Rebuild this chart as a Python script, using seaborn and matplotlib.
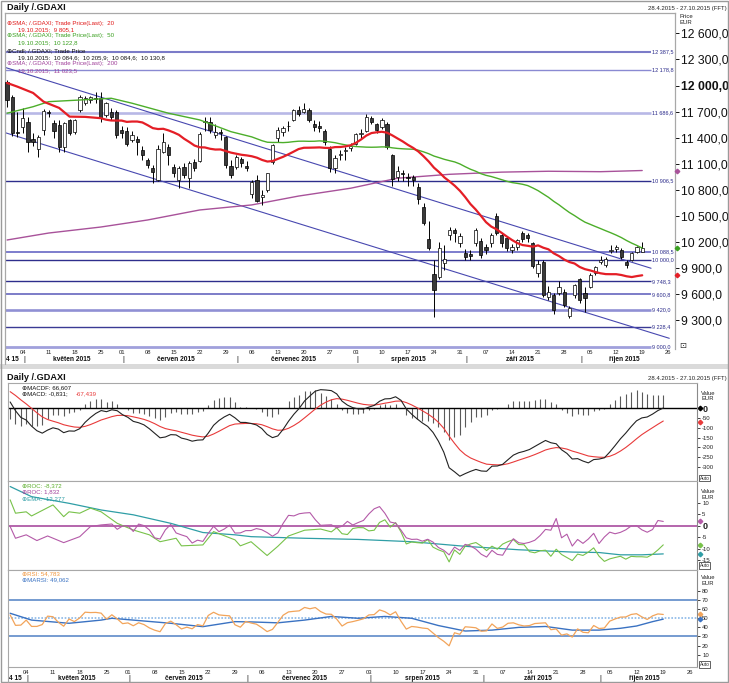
import numpy as np
import pandas as pd
import matplotlib
matplotlib.use("Agg")
import matplotlib.pyplot as plt
from matplotlib.patches import Rectangle
from matplotlib.lines import Line2D
from matplotlib.transforms import blended_transform_factory
import seaborn as sns

sns.set_theme(style="white")
plt.rcParams['font.family'] = ['Liberation Sans', 'DejaVu Sans']
plt.rcParams['axes.unicode_minus'] = False

W, H = 729, 683

# ---------------- data ----------------
holidays = ["2015-05-01", "2015-05-25"]
trade_days = [d for d in pd.bdate_range("2015-04-28", "2015-10-19")
              if d.strftime("%Y-%m-%d") not in holidays]

opens = [12045, 11872, 11470, 11528, 11585, 11383, 11268, 11490, 11700, 11570,
         11547, 11298, 11605, 11470, 11720, 11800, 11834, 11860, 11854, 11662,
         11700, 11700, 11490, 11482, 11375, 11383, 11260, 11145, 11053, 10915,
         11240, 11298, 11068, 10915, 11068, 10935, 11125, 11130, 11580, 11585,
         11432, 11460, 11413, 11075, 11068, 11160, 11080, 10750, 10920, 10720,
         10800, 11120, 11400, 11470, 11530, 11600, 11720, 11700, 11720, 11560,
         11540, 11480, 11270, 11050, 11200, 11250, 11280, 11330, 11440, 11480,
         11630, 11560, 11520, 11560, 11200, 10950, 11000, 10950, 10950, 10838,
         10608, 10233, 9830, 9803, 9957, 10282, 10340, 10194, 10080, 10063,
         10187, 10218, 10145, 10194, 10501, 10283, 10245, 10110, 10145, 10300,
         10283, 10187, 9840, 9976, 9573, 9593, 9612, 9631, 9350, 9593,
         9774, 9612, 9689, 9843, 9970, 9938, 10100, 10118, 10110, 9976,
         9996, 10091, 10084.6]
highs = [12064, 11890, 11700, 11740, 11640, 11450, 11430, 11725, 11720, 11600,
         11605, 11580, 11620, 11620, 11892, 11880, 11880, 11930, 11930, 11810,
         11740, 11720, 11530, 11520, 11480, 11420, 11300, 11170, 11090, 11317,
         11452, 11330, 11100, 11080, 11110, 11130, 11160, 11470, 11640, 11640,
         11560, 11500, 11420, 11140, 11200, 11180, 11130, 10920, 10970, 10800,
         11000, 11330, 11520, 11540, 11590, 11730, 11760, 11802, 11740, 11600,
         11590, 11500, 11300, 11200, 11260, 11290, 11340, 11460, 11500, 11670,
         11650, 11570, 11630, 11580, 11210, 11080, 11030, 11000, 10970, 10880,
         10650, 10447, 9990, 10206, 10168, 10378, 10360, 10300, 10120, 10110,
         10360, 10250, 10180, 10300, 10533, 10310, 10270, 10180, 10240, 10330,
         10300, 10200, 9990, 10000, 9700, 9620, 9750, 9660, 9470, 9720,
         9790, 9680, 9840, 9930, 10040, 10030, 10170, 10170, 10130, 10000,
         10090, 10160, 10205.9]
lows = [11757, 11420, 11410, 11460, 11240, 11300, 11180, 11432, 11640, 11400,
        11240, 11240, 11430, 11440, 11700, 11780, 11800, 11800, 11580, 11640,
        11600, 11400, 11400, 11300, 11350, 11202, 11150, 11050, 10877, 10900,
        11220, 11087, 10950, 10820, 10940, 10820, 11020, 11120, 11480, 11460,
        11400, 11380, 11050, 10940, 11040, 11060, 11020, 10710, 10660, 10630,
        10780, 11100, 11350, 11420, 11480, 11590, 11650, 11690, 11580, 11480,
        11470, 11320, 11010, 11000, 11150, 11150, 11250, 11320, 11400, 11470,
        11560, 11460, 11500, 11270, 10850, 10900, 10900, 10850, 10850, 10640,
        10400, 10110, 9340, 9780, 9880, 10225, 10200, 10150, 9990, 9990,
        10160, 10020, 10060, 10150, 10280, 10150, 10100, 10080, 10110, 10200,
        10200, 9900, 9800, 9570, 9540, 9380, 9590, 9460, 9325, 9560,
        9500, 9400, 9670, 9820, 9950, 9920, 10080, 10090, 10010, 9900,
        9980, 10070, 10084.6]
closes = [11834, 11452, 11460, 11624, 11355, 11355, 11413, 11712, 11690, 11478,
          11298, 11570, 11455, 11605, 11872, 11857, 11865, 11840, 11624, 11800,
          11643, 11432, 11459, 11329, 11432, 11355, 11202, 11088, 11010, 11268,
          11355, 11202, 10992, 11050, 10972, 11107, 11050, 11440, 11590, 11490,
          11470, 11455, 11087, 10970, 11183, 11110, 11058, 10890, 10676, 10747,
          10996, 11315, 11484, 11516, 11539, 11717, 11673, 11734, 11604, 11520,
          11512, 11347, 11056, 11173, 11211, 11257, 11308, 11443, 11456, 11636,
          11585, 11490, 11604, 11293, 10925, 11015, 10985, 10940, 10915, 10693,
          10417, 10130, 9650, 10130, 10003, 10340, 10310, 10271, 10030, 10045,
          10340, 10053, 10110, 10283, 10302, 10194, 10130, 10145, 10220, 10233,
          10245, 9927, 9950, 9593, 9631, 9421, 9689, 9478, 9445, 9708,
          9536, 9555, 9823, 9919, 10000, 10007, 10112, 10145, 10033, 9938,
          10072, 10148, 10130.8]

# moving averages: values read for the first days, then from the closes
sma20_head_days = [0, 2, 5, 7, 10, 12, 15, 18]
sma20_head_vals = [12030, 11987, 11915, 11815, 11743, 11643, 11640, 11625]
sma50_head_days = [0, 5, 8, 14, 20, 24, 31, 37, 43, 47]
sma50_head_vals = [11682, 11757, 11815, 11834, 11854, 11797, 11682, 11605, 11470, 11410]
sma200_days = [0, 8, 18, 27, 37, 47, 56, 66, 75, 85, 95, 104, 114, 122]
sma200_vals = [10225, 10305, 10374, 10455, 10570, 10628, 10730, 10820, 10935,
               10980, 11005, 11015, 11010, 11023.5]

levels = [12387.5, 12178.8, 11686.6, 10906.5, 10088.5, 10000.0, 9748.3,
          9600.8, 9420.0, 9228.4, 9000.0]
level_colors = ['#7b7bc8', '#8a8ad2', '#b8b8e6', '#2e2e8c', '#5a5ac0', '#2e2e8c',
                '#2e2e8c', '#7272c4', '#9090d4', '#3a3a94', '#a0a0dc']
level_widths = [1.5, 1.0, 1.9, 1.0, 1.1, 1.0, 1.0, 1.3, 1.9, 1.0, 2.0]
channel_upper_days, channel_upper_vals = [-0.4, 123.7], [12209, 9900]
channel_lower_days, channel_lower_vals = [-0.4, 127.2], [11459, 9095]

# MACD seeds (state before the first day)
macd_seed_ema12, macd_seed_ema26, macd_seed_signal = 12010, 11960, 98

roc20_head_days = [0, 1, 3, 5, 7, 10, 13, 15, 17, 19]
roc20_head_vals = [-0.4, -5.5, -4, -6.5, -4.5, -7.4, -4.8, -0.4, 0.3, 0.7]
roc60_head_days = [0, 1, 3, 4, 8, 10, 11, 13, 15, 17, 20, 23, 26, 28, 31, 32, 36,
                   38, 42, 43, 45, 48, 50, 52, 55, 58]
roc60_head_vals = [11.2, 5.4, 6, 4.2, 9, 3.9, 6, 5.4, 7.6, 6, 1, -1.9, -4, -7, -5.5,
                   -8.8, -8.4, -2.6, -6.2, -8.8, -7, -13, -9, -4.5, -2, -1.5]
ema_days = [0, 4, 11, 17, 23, 30, 36, 42, 45, 55, 65, 75, 85, 95, 105, 110, 114, 118, 122]
ema_vals = [17, 12.6, 9.7, 6.8, 4.7, 1, -3, -4, -4.8, -5.5, -6, -7, -9, -10.5,
            -11.5, -11.7, -12.7, -12.7, -12.3]

rsi_seed_gain, rsi_seed_loss = 58.0, 50.0
marsi_days = [0, 4, 11, 17, 19, 23, 30, 36, 42, 45, 50, 55, 60, 65, 70, 75, 80,
              85, 90, 95, 100, 105, 110, 114, 117, 120, 122]
marsi_vals = [55.5, 48, 44.5, 48, 50, 48, 44.5, 40.8, 46.3, 46, 45, 48, 52, 50, 52,
              50, 42, 36, 37, 40, 41, 37, 37, 39, 41.5, 46.3, 49.06]

month_names = ["květen 2015", "červen 2015", "červenec 2015", "srpen 2015",
               "září 2015", "říjen 2015"]
month_starts = ["2015-05-01", "2015-06-01", "2015-07-01", "2015-08-01",
                "2015-09-01", "2015-10-01"]
axis_end = "2015-10-27"
main_yticks = [9300, 9600, 9900, 10200, 10500, 10800, 11100, 11400, 11700,
               12000, 12300, 12600]
macd_yticks = [0, -50, -100, -150, -200, -250, -300]
roc_yticks = [10, 5, 0, -5, -10, -15]
rsi_yticks = [80, 70, 60, 50, 40, 30, 20, 10]

# ---------------- helpers ----------------
def fmt(v, nd=1):
    return f"{v:,.{nd}f}".replace(",", " ").replace(".", ",")

n = len(closes)
idx = np.arange(n)
o, hh, ll, c = map(np.array, (opens, highs, lows, closes))
td = pd.DatetimeIndex(trade_days)


def day_pos(d):
    d = pd.Timestamp(d)
    i = td.searchsorted(d)
    if i < len(td):
        return int(i)
    return len(td) - 1 + len(pd.bdate_range(td[-1], d)) - 1


XL = (-0.4, 128.3)

fig = plt.figure(figsize=(W / 100, H / 100), dpi=100)
fig.patch.set_facecolor('white')


def rect(x0, y0, x1, y1):
    return [x0 / W, 1 - y1 / H, (x1 - x0) / W, (y1 - y0) / H]


def ftext(x, y, s, **kw):
    kw.setdefault('va', 'center')
    kw.setdefault('ha', 'left')
    fig.text(x / W, 1 - y / H, s, **kw)


def fline(x0, y0, x1, y1, **kw):
    fig.lines.append(Line2D([x0 / W, x1 / W], [1 - y0 / H, 1 - y1 / H],
                            transform=fig.transFigure, **kw))


ax = fig.add_axes(rect(5, 13, 675, 349))
axm = fig.add_axes(rect(8, 383, 697, 481))
axr = fig.add_axes(rect(8, 481, 697, 570))
axs = fig.add_axes(rect(8, 570, 697, 667))

# separator band, frame lines
fig.patches.append(Rectangle((0, 1 - 369 / H), 1, 5 / H, transform=fig.transFigure,
                             facecolor='#dadada', edgecolor='none'))
fig.patches.append(Rectangle((0.001, 0.001), 0.998, 0.998, transform=fig.transFigure,
                             facecolor='none', edgecolor='#9a9a9a', lw=1.0))
fline(5, 349, 5, 364, color='#a8a8a8', lw=0.9)
fline(8, 667, 8, 682, color='#a8a8a8', lw=0.8)

# ---------------- main price panel ----------------
ax.set_xlim(*XL)
ax.set_ylim(8972, 12834)
for lv, col, lw in zip(levels, level_colors, level_widths):
    ax.plot([XL[0], 123.6], [lv, lv], color=col, lw=lw, zorder=1, solid_capstyle='butt')
    ax.text(123.8, lv, fmt(lv), fontsize=4.0, color='#2a2a8a', va='center', ha='left',
            zorder=6, clip_on=False)
ax.plot(channel_upper_days, channel_upper_vals, color='#4848b0', lw=0.8, zorder=1.5)
ax.plot(channel_lower_days, channel_lower_vals, color='#4848b0', lw=0.8, zorder=1.5)

sns.lineplot(x=sma200_days, y=sma200_vals, ax=ax, color='#a8529a', lw=1.0,
             sort=False, estimator=None, legend=False, zorder=2)

# candles
up = c >= o
body_lo = np.minimum(o, c)
body_h = np.maximum(np.abs(c - o), 8)
ax.vlines(idx, ll, hh, color='black', lw=0.7, zorder=3)
ax.bar(idx, body_h, bottom=body_lo, width=0.62,
       color=np.where(up, 'white', '#3a3a3a'), edgecolor='black', linewidth=0.5,
       zorder=3.5)

cs = pd.Series(closes)
sma20_calc = cs.rolling(20).mean()
sma50_calc = cs.rolling(50).mean()
sma20_x = sma20_head_days + list(range(19, n))
sma20_y = sma20_head_vals + list(sma20_calc[19:])
sma50_x = sma50_head_days + list(range(49, n))
sma50_y = sma50_head_vals + list(sma50_calc[49:])
sns.lineplot(x=sma50_x, y=sma50_y, ax=ax, color='#4cae2a', lw=1.0, sort=False,
             estimator=None, legend=False, zorder=4)
sns.lineplot(x=sma20_x, y=sma20_y, ax=ax, color='#e41e26', lw=1.6, sort=False,
             estimator=None, legend=False, zorder=4)

ax.yaxis.tick_right()
ax.set_yticks(main_yticks)
ax.set_yticklabels([fmt(v) for v in main_yticks])
ax.tick_params(axis='y', direction='out', length=3, width=0.7, pad=1.5,
               labelsize=8.8, colors='#111111', right=True, left=False)
for t, v in zip(ax.get_yticklabels(), main_yticks):
    if v == 12000:
        t.set_fontweight('bold')
ax.set_xticks([])
for s in ax.spines.values():
    s.set_color('#a8a8a8')
    s.set_linewidth(0.9)
ax.spines['bottom'].set_visible(False)

for val, col in [(sma200_vals[-1], '#a8529a'), (sma50_y[-1], '#3aa020'),
                 (sma20_y[-1], '#e41e26')]:
    ax.plot([XL[1] + 0.45], [val], marker='D', ms=2.3, color=col, clip_on=False,
            zorder=7)

# main legend
leg_fs = 4.4
ftext(7, 23.3, "⊕SMA; /.GDAXI; Trade Price(Last);  20", fontsize=leg_fs, color='#e01818')
ftext(18, 29.5, "19.10.2015;  " + fmt(9805.1), fontsize=leg_fs, color='#e01818')
ftext(7, 35.6, "⊕SMA; /.GDAXI; Trade Price(Last);  50", fontsize=leg_fs, color='#3aa020')
ftext(18, 42.6, "19.10.2015;  " + fmt(10122.8), fontsize=leg_fs, color='#3aa020')
ftext(7, 50.6, "⊕Cndl; /.GDAXI; Trade Price", fontsize=leg_fs, color='#111111')
ftext(18, 57.4, "19.10.2015:  " + ";  ".join(fmt(v) for v in
      [opens[-1], highs[-1], lows[-1], closes[-1]]), fontsize=leg_fs, color='#111111')
ftext(7, 64.0, "⊕SMA; /.GDAXI; Trade Price(Last);  200", fontsize=leg_fs, color='#a0409a')
ftext(18, 70.7, "19.10.2015;  " + fmt(11023.5), fontsize=leg_fs, color='#a0409a')

ftext(7, 7, "Daily /.GDAXI", fontsize=6.6, fontweight='bold', color='#111111')
ftext(727, 8.7, "28.4.2015 - 27.10.2015 (FFT)", fontsize=4.3, ha='right', color='#222222')
ftext(679, 16.5, "Price", fontsize=4.3, color='#222222')
ftext(679, 22.5, "EUR", fontsize=4.3, color='#222222')
ftext(679, 346, "⊡", fontsize=6, color='#333333')

ftext(7, 377, "Daily /.GDAXI", fontsize=6.6, fontweight='bold', color='#111111')
ftext(727, 378.5, "28.4.2015 - 27.10.2015 (FFT)", fontsize=4.3, ha='right', color='#222222')


# ---------------- date axes ----------------
def date_axis(a, y_day, y_month):
    tr = blended_transform_factory(a.transData, a.transAxes)
    for d in pd.date_range("2015-05-04", "2015-10-26", freq="W-MON"):
        a.text(day_pos(d), y_day, d.strftime("%d"), transform=tr, fontsize=4.2,
               ha='center', va='center', color='#222222', clip_on=False)
    a.text(XL[0] + 0.1, y_month, "4 15", transform=tr, fontsize=4.8,
           fontweight='bold', ha='left', va='center', color='#111111', clip_on=False)
    ends = month_starts[1:] + [axis_end]
    for name, st, en in zip(month_names, month_starts, ends):
        p0 = day_pos(st)
        p1 = day_pos(pd.Timestamp(en) - pd.Timedelta(days=1))
        a.text(p0 + 0.3, y_month, "|", transform=tr, fontsize=5, ha='center',
               va='center', color='#111111', clip_on=False)
        a.text((p0 + p1) / 2, y_month, name, transform=tr, fontsize=4.8,
               fontweight='bold', ha='center', va='center', color='#111111',
               clip_on=False)


date_axis(ax, -0.011, -0.032)

# ---------------- MACD panel ----------------
e12, e26, sg = macd_seed_ema12, macd_seed_ema26, macd_seed_signal
macd, signal = [], []
for cl in closes:
    e12 += 2 / 13 * (cl - e12)
    e26 += 2 / 27 * (cl - e26)
    m = e12 - e26
    sg += 0.2 * (m - sg)
    macd.append(m)
    signal.append(sg)
macd = np.array(macd)
signal = np.array(signal)
hist = macd - signal

axm.set_xlim(*XL)
axm.set_ylim(-371, 129)
axm.axhline(0, color='black', lw=1.0, zorder=2)
axm.vlines(idx, 0, hist, color='#5a5a5a', lw=0.8, zorder=1)
sns.lineplot(x=idx, y=signal, ax=axm, color='#e83a3a', lw=0.8, sort=False,
             estimator=None, legend=False, zorder=3)
sns.lineplot(x=idx, y=macd, ax=axm, color='#222222', lw=0.8, sort=False,
             estimator=None, legend=False, zorder=4)
axm.plot([XL[1] + 0.5], [0], marker='D', ms=2.3, color='black', clip_on=False)
axm.plot([XL[1] + 0.5], [-67.439], marker='D', ms=2.3, color='#e83a3a', clip_on=False)
axm.set_yticks(macd_yticks)
axm.set_yticklabels([str(v) for v in macd_yticks])

ftext(22, 387.3, "⊕MACDF: 66,607", fontsize=leg_fs, color='#111111')
ftext(22, 394, "⊕MACD: -0,831;", fontsize=leg_fs, color='#111111')
ftext(76, 394, "-67,439", fontsize=leg_fs, color='#e83a3a')

# ---------------- ROC panel ----------------
roc20 = roc20_head_vals + [100 * (closes[i] / closes[i - 20] - 1) for i in range(20, n)]
roc20_x = roc20_head_days + list(range(20, n))
roc60 = roc60_head_vals + [100 * (closes[i] / closes[i - 60] - 1) for i in range(60, n)]
roc60_x = roc60_head_days + list(range(60, n))

axr.set_xlim(*XL)
axr.set_ylim(-19.3, 19.4)
axr.axhline(0, color='#a03c96', lw=1.1, zorder=1)
sns.lineplot(x=ema_days, y=ema_vals, ax=axr, color='#2f9ea6', lw=0.9, sort=False,
             estimator=None, legend=False, zorder=2)
sns.lineplot(x=roc60_x, y=roc60, ax=axr, color='#78c24a', lw=0.8, sort=False,
             estimator=None, legend=False, zorder=3)
sns.lineplot(x=roc20_x, y=roc20, ax=axr, color='#b45aa8', lw=0.8, sort=False,
             estimator=None, legend=False, zorder=3)
for val, col in [(1.832, '#b45aa8'), (-8.372, '#78c24a'), (-12.277, '#2f9ea6')]:
    axr.plot([XL[1] + 0.5], [val], marker='D', ms=2.3, color=col, clip_on=False)
axr.set_yticks(roc_yticks)
axr.set_yticklabels([str(v) for v in roc_yticks])

ftext(22, 485.7, "⊕ROC: -8,372", fontsize=leg_fs, color='#5aae2a')
ftext(22, 491.7, "⊕ROC: 1,832", fontsize=leg_fs, color='#a0409a')
ftext(22, 498.3, "⊕EMA: -12,277", fontsize=leg_fs, color='#2f9ea6')

# ---------------- RSI panel ----------------
g, lo = rsi_seed_gain, rsi_seed_loss
rsi = [100 * g / (g + lo)]
for i in range(1, n):
    d = closes[i] - closes[i - 1]
    g = (g * 13 + max(d, 0)) / 14
    lo = (lo * 13 + max(-d, 0)) / 14
    rsi.append(100 * g / (g + lo))

axs.set_xlim(*XL)
axs.set_ylim(-3.5, 103)
axs.axhline(70, color='#4f80c4', lw=1.1, zorder=1)
axs.axhline(30, color='#4f80c4', lw=1.1, zorder=1)
axs.axhline(50, color='#8ab8e8', lw=1.2, ls=(0, (1, 1)), zorder=1)
sns.lineplot(x=marsi_days, y=marsi_vals, ax=axs, color='#3a72c2', lw=1.0, sort=False,
             estimator=None, legend=False, zorder=2)
sns.lineplot(x=idx, y=rsi, ax=axs, color='#f2a45a', lw=0.9, sort=False,
             estimator=None, legend=False, zorder=3)
axs.plot([XL[1] + 0.5], [54.783], marker='D', ms=2.3, color='#f2a45a', clip_on=False)
axs.plot([XL[1] + 0.5], [49.062], marker='D', ms=2.3, color='#3a72c2', clip_on=False)
axs.set_yticks(rsi_yticks)
axs.set_yticklabels([str(v) for v in rsi_yticks])

ftext(22, 574, "⊕RSI: 54,783", fontsize=leg_fs, color='#f0943a')
ftext(22, 579.8, "⊕MARSI: 49,062", fontsize=leg_fs, color='#3a72c2')

date_axis(axs, -0.052, -0.115)

# common styling of lower panels
for a, ytop, ybot in [(axm, 393, 478.3), (axr, 491.7, 565.5), (axs, 577.3, 664.5)]:
    a.yaxis.tick_right()
    a.tick_params(axis='y', direction='out', length=2.5, width=0.6, pad=1.2,
                  labelsize=4.3, colors='#222222', right=True, left=False)
    a.set_xticks([])
    for s in a.spines.values():
        s.set_color('#a8a8a8')
        s.set_linewidth(0.8)
    a.spines['right'].set_color('#8a8a8a')
    for t in a.get_yticklabels():
        if t.get_text() == '0':
            t.set_fontweight('bold')
            t.set_fontsize(6.5)
    ftext(701, ytop, "Value", fontsize=4.2, color='#222222')
    ftext(701, ytop + 5.8, "EUR", fontsize=4.2, color='#222222')
    ftext(700, ybot, "Auto", fontsize=3.4, color='#222222',
          bbox=dict(boxstyle='square,pad=0.12', fc='white', ec='#222222', lw=0.5))

fig.savefig("out.png", dpi=100)
